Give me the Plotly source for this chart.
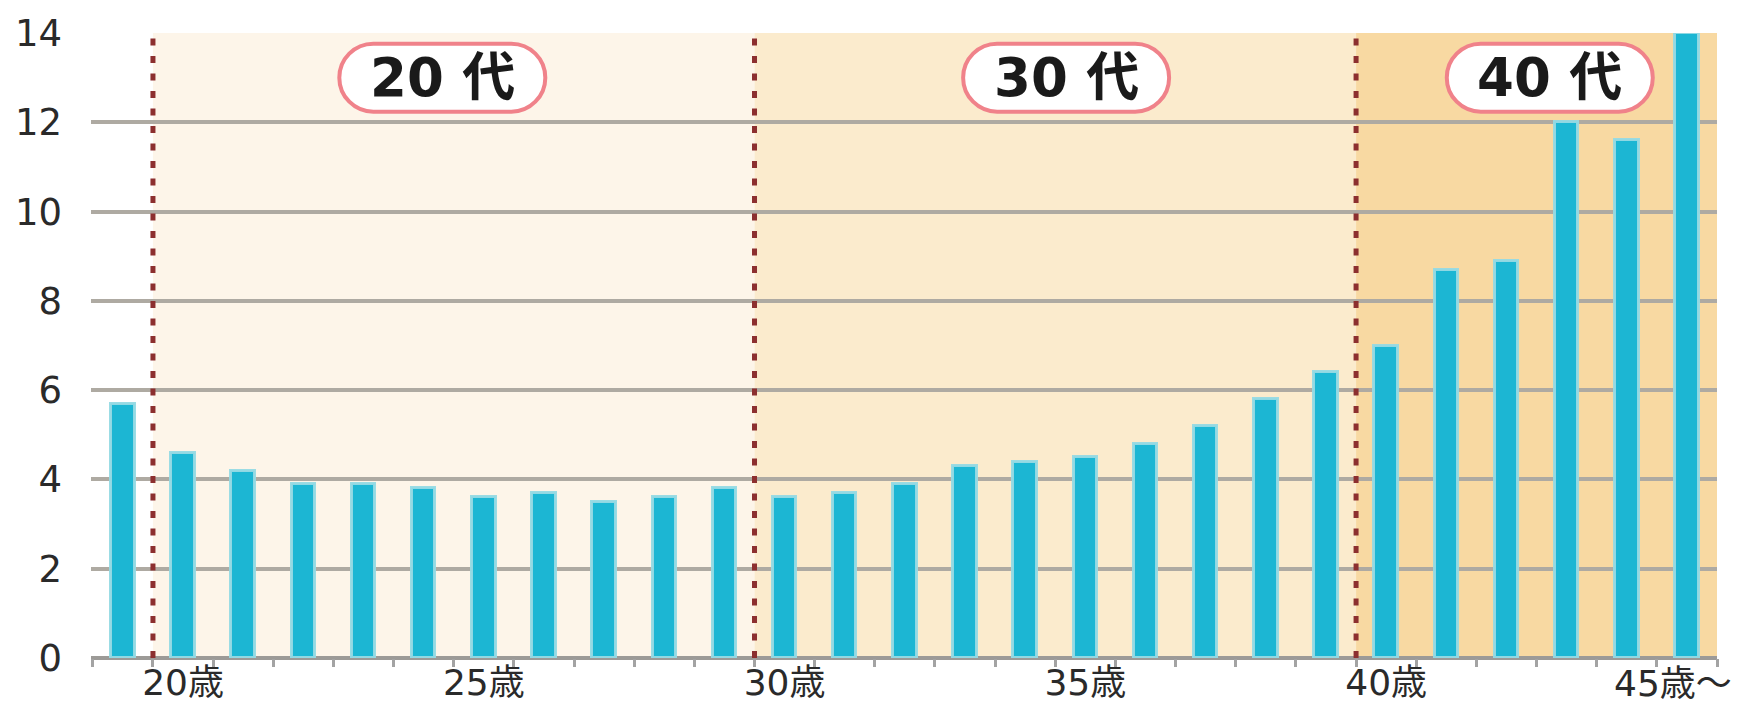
import plotly.graph_objects as go

# ---- data ----
ages = ["〜19歳", "20歳", "21歳", "22歳", "23歳", "24歳", "25歳", "26歳", "27歳", "28歳",
        "29歳", "30歳", "31歳", "32歳", "33歳", "34歳", "35歳", "36歳", "37歳", "38歳",
        "39歳", "40歳", "41歳", "42歳", "43歳", "44歳", "45歳～"]
values = [5.7, 4.6, 4.2, 3.9, 3.9, 3.8, 3.6, 3.7, 3.5, 3.6,
          3.8, 3.6, 3.7, 3.9, 4.3, 4.4, 4.5, 4.8, 5.2, 5.8,
          6.4, 7.0, 8.7, 8.9, 12.0, 11.6, 14.0]
shown_labels = ["20歳", "25歳", "30歳", "35歳", "40歳"]
last_label = "45歳～"   # drawn as an annotation so it stays inside the picture
tick_text = [a if a in shown_labels else "" for a in ages]

decades = ["20 代", "30 代", "40 代"]
decade_start = ["20歳", "30歳", "40歳"]
decade_end = ["29歳", "39歳", "45歳～"]
decade_colors = ["#fdf5e9", "#fbebcd", "#f8d9a2"]
decade_label_pos = [5.31, 15.68, 23.72]   # category-index position of the pill label
label_y = 13.0

FONT = "DejaVu Sans, Noto Sans CJK JP, sans-serif"

fig = go.Figure()
fig.add_trace(go.Bar(
    x=ages, y=values, width=0.39,
    marker=dict(color="#1cb6d3", line=dict(color="rgba(150,218,228,0.95)", width=3)),
    showlegend=False, cliponaxis=True,
))

shapes = []
annotations = []
for name, s, e, col, lx in zip(decades, decade_start, decade_end, decade_colors, decade_label_pos):
    i0 = ages.index(s) - 0.5
    i1 = ages.index(e) + 0.5
    shapes.append(dict(type="rect", xref="x", yref="y", x0=i0, x1=i1, y0=0, y1=14,
                       fillcolor=col, line=dict(width=0), layer="below"))
    shapes.append(dict(type="line", xref="x", yref="y", x0=i0, x1=i0, y0=0, y1=14,
                       line=dict(color="#8c2f2f", width=5, dash="7px,10.5px"), layer="above"))
    # rounded pill (pixel-sized, anchored at label position)
    w, h = 206, 68
    r = h / 2
    a = w / 2 - r
    k = 0.5523 * r
    path = (f"M {-a},{-r} L {a},{-r} "
            f"C {a + k},{-r} {a + r},{-k} {a + r},0 "
            f"C {a + r},{k} {a + k},{r} {a},{r} "
            f"L {-a},{r} "
            f"C {-a - k},{r} {-a - r},{k} {-a - r},0 "
            f"C {-a - r},{-k} {-a - k},{-r} {-a},{-r} Z")
    shapes.append(dict(type="path", xref="x", yref="y", xsizemode="pixel", ysizemode="pixel",
                       xanchor=lx, yanchor=label_y, path=path, fillcolor="white",
                       line=dict(color="#f0828a", width=4), layer="above"))
    annotations.append(dict(x=lx, y=label_y, xref="x", yref="y", text=name, showarrow=False,
                            font=dict(family=FONT, size=53, color="#1a1a1a", weight="bold"),
                            xanchor="center", yanchor="middle"))

# last x label, right-aligned near the picture edge under the last bar
annotations.append(dict(x=1.0105, y=0, xref="paper", yref="paper", text=last_label,
                        showarrow=False, xanchor="right", yanchor="top", yshift=-3,
                        font=dict(family=FONT, size=36, color="#2a2a2a")))

fig.update_layout(
    width=1740, height=703,
    margin=dict(l=83, r=31, t=25, b=53),
    paper_bgcolor="white", plot_bgcolor="white",
    shapes=shapes, annotations=annotations,
    bargap=0,
    xaxis=dict(type="category", range=[-0.53, 26.5], tickmode="array",
               tickvals=ages, ticktext=tick_text, tickson="boundaries", tickangle=0,
               ticks="outside", ticklen=8, tickwidth=2.5, tickcolor="#a3a3a3",
               showgrid=False, showline=False, automargin=False,
               tickfont=dict(family=FONT, size=36, color="#2a2a2a"),
               ticklabelstandoff=0),
    yaxis=dict(range=[0, 14], tickmode="linear", tick0=0, dtick=2,
               showgrid=True, gridcolor="#aeaaa2", gridwidth=3.5,
               zeroline=True, zerolinecolor="#9c9a97", zerolinewidth=4,
               showline=False, ticks="", automargin=False,
               tickfont=dict(family=FONT, size=37, color="#2a2a2a"),
               ticklabelstandoff=28),
)

fig.write_html("out.html")
